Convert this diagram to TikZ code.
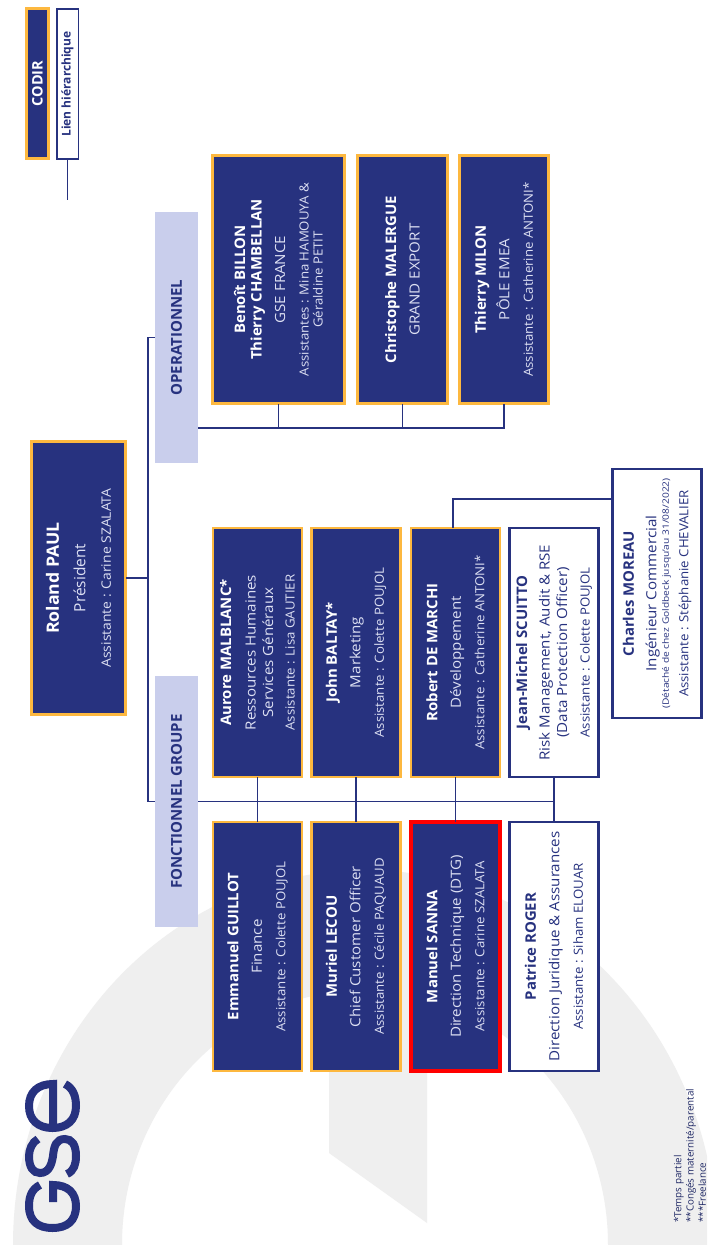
\documentclass[tikz,border=0pt]{standalone}
\usepackage{fontspec}
\setmainfont{Open Sans}
\definecolor{navy}{HTML}{27327F}
\definecolor{gold}{HTML}{FDB83F}
\definecolor{bandc}{HTML}{C9CEEC}
\definecolor{softw}{HTML}{DDE0F3}
\definecolor{bggray}{HTML}{EFEFEF}
\newcommand{\nmf}[1]{{\fontsize{14.5}{24}\bfseries\selectfont\addfontfeature{FakeStretch=1.03} #1}}
\newcommand{\rlf}[1]{{\fontsize{14}{24}\selectfont\addfontfeature{FakeStretch=1.08} #1}}
\newcommand{\asf}[1]{{\fontsize{12.6}{24}\selectfont\addfontfeature{FakeStretch=1.05} #1}}
\tikzset{
  x=1pt,y=-1pt,
  basebox/.style={rotate=90,inner sep=0pt,outer sep=0pt,align=center,line width=2.6pt,font=\fontsize{13}{23.5}\selectfont},
  std/.style={minimum width=249pt,minimum height=89pt},
  codirbox/.style={basebox,draw=gold,fill=navy,text=softw},
  redbox/.style={basebox,draw=red,fill=navy,text=softw,line width=3.4pt},
  whitebox/.style={basebox,draw=navy,fill=white,text=navy},
  bandbox/.style={rotate=90,fill=bandc,text=navy,inner sep=0pt,outer sep=0pt,minimum width=251pt,minimum height=43pt,font=\fontsize{15}{16}\bfseries\selectfont},
  link/.style={draw=navy,line width=1.8pt},
  logo/.style={draw=navy,line width=8pt,line cap=butt}
}
\begin{document}
\begin{tikzpicture}
\useasboundingbox (0,0) rectangle (707,1245);
\begin{scope}
\clip (0,0) rectangle (707,1245);
\fill[white] (0,0) rectangle (707,1245);
\fill[bggray,even odd rule] (365,1245) ellipse [x radius=352,y radius=375] (365,1245) ellipse [x radius=243,y radius=255];
\fill[bggray] (329,900) -- (427,900) -- (427,1223) -- (329,1153) -- cycle;
\end{scope}
% logo
\begin{scope}[shift={(80,1232)},x={(0pt,1pt)},y={(-1pt,0pt)}]
\draw[logo] (47,40) .. controls (43,48) and (36,51) .. (26,51) .. controls (11,51) and (4,42) .. (4,27.5) .. controls (4,13) and (11,4) .. (26,4) .. controls (39,4) and (47,12) .. (47,27) -- (30,27);
\draw[logo] (93,42) .. controls (90,48) and (82,51) .. (76,51) .. controls (65,51) and (59,47) .. (59,40) .. controls (59,30) and (70,28) .. (76,27) .. controls (86,26) and (93,24) .. (93,15) .. controls (93,8) and (87,4) .. (76,4) .. controls (68,4) and (61,6) .. (58,13);
\draw[logo] (104,27) -- (148,27) .. controls (148,42) and (140,51) .. (126,51) .. controls (112,51) and (104,42) .. (104,27.5) .. controls (104,13) and (112,4) .. (126,4) .. controls (136,4) and (144,7) .. (148,15);
\end{scope}
% legend
\node[codirbox,minimum width=150.5pt,minimum height=22.5pt,text=white,font=\fontsize{14.5}{14}\bfseries\selectfont] (legc) at (37.5,83.5) {CODIR};
\node[whitebox,minimum width=150pt,minimum height=21.5pt,line width=1.5pt,font=\fontsize{12}{14}\bfseries\selectfont] (legl) at (67.5,84) {Lien hiérarchique};
\coordinate (legend) at (67.5,200);
\draw[link] (legl.west) -- (legend);
% bands
\node[bandbox] (oper) at (176.5,337.5) {OPERATIONNEL};
\node[bandbox] (fonct) at (176.5,801.5) {FONCTIONNEL GROUPE};
% president
\node[codirbox,minimum width=273.5pt,minimum height=94.5pt] (roland) at (78.5,578) {{\fontsize{17}{24}\bfseries\selectfont\addfontfeature{FakeStretch=1.04}\color{white}Roland PAUL}\\[3pt]{\fontsize{15.5}{24}\selectfont Président}\\[2pt]{\fontsize{13}{24}\selectfont\addfontfeature{FakeStretch=1.07}Assistante : Carine SZALATA}};
% operationnel
\node[codirbox,minimum width=248.5pt,minimum height=132.5pt] (benoit) at (278.5,279.5) {\nmf{\color{white}Benoît BILLON}\\[-7pt]\nmf{\color{white}Thierry CHAMBELLAN}\\[0pt]\rlf{GSE FRANCE}\\[0pt]\asf{Assistantes : Mina HAMOUYA \&}\\[-9.5pt]\asf{Géraldine PETIT}};
\node[codirbox,minimum width=248.5pt,minimum height=90.5pt] (chris) at (402.5,279.5) {\nmf{\color{white}Christophe MALERGUE}\\[0pt]\rlf{GRAND EXPORT}};
\node[codirbox,minimum width=248.5pt,minimum height=89pt] (milon) at (504,279.5) {\nmf{\color{white}Thierry MILON}\\[0pt]\rlf{PÔLE EMEA}\\[0pt]\asf{Assistante : Catherine ANTONI*}};
% upper row
\node[codirbox,std] (aurore) at (257.5,652.5) {\nmf{\color{white}Aurore MALBLANC*}\\[1pt]\rlf{Ressources Humaines}\\[-6pt]\rlf{Services Généraux}\\[-2pt]\asf{Assistante : Lisa GAUTIER}};
\node[codirbox,std] (john) at (356,652.5) {\nmf{\color{white}John BALTAY*}\\[0pt]\rlf{Marketing}\\[0pt]\asf{Assistante : Colette POUJOL}};
\node[codirbox,std] (robert) at (455.5,652.5) {\nmf{\color{white}Robert DE MARCHI}\\[0pt]\rlf{Développement}\\[0pt]\asf{Assistante : Catherine ANTONI*}};
\node[whitebox,std] (jean) at (554,652.5) {\nmf{Jean-Michel SCUITTO}\\[-1pt]\rlf{Risk Management, Audit \& RSE}\\[-6pt]\rlf{(Data Protection Officer)}\\[-1pt]\asf{Assistante : Colette POUJOL}};
% lower row
\node[codirbox,std] (emm) at (257.5,946.5) {\nmf{\color{white}Emmanuel GUILLOT}\\[0pt]\rlf{Finance}\\[0pt]\asf{Assistante : Colette POUJOL}};
\node[codirbox,std] (muriel) at (356,946.5) {\nmf{\color{white}Muriel LECOU}\\[0pt]\rlf{Chief Customer Officer}\\[0pt]\asf{Assistante : Cécile PAQUAUD}};
\node[redbox,std] (manuel) at (455.5,946.5) {\nmf{\color{white}Manuel SANNA}\\[0pt]\rlf{Direction Technique (DTG)}\\[0pt]\asf{Assistante : Carine SZALATA}};
\node[whitebox,std] (patrice) at (554,946.5) {\nmf{Patrice ROGER}\\[0pt]\rlf{Direction Juridique \& Assurances}\\[0pt]\asf{Assistante : Siham ELOUAR}};
% charles
\node[whitebox,minimum width=249pt,minimum height=89pt] (charles) at (657,593.5) {\nmf{Charles MOREAU}\\[-1pt]\rlf{Ingénieur Commercial}\\[-11pt]{\fontsize{8.8}{10}\selectfont\addfontfeature{FakeStretch=1.16}(Détaché de chez Goldbeck jusqu'au 31/08/2022)}\\[-4pt]\asf{Assistante : Stéphanie CHEVALIER}};
% connectors
\coordinate (spine) at (148,578);
\draw[link] (roland.south) -- (spine);
\draw[link] (oper.north) -- (oper.north -| spine) -- (fonct.north -| spine) -- (fonct.north);
\draw[link] (fonct.south) -- (fonct.south -| patrice.east);
\draw[link] (aurore.west) -- (emm.east);
\draw[link] (john.west) -- (muriel.east);
\draw[link] (robert.west) -- (manuel.east);
\draw[link] (jean.west) -- (patrice.east);
\coordinate (opbus) at (198,428);
\draw[link] (opbus) -- (opbus -| milon.west) -- (milon.west);
\draw[link] (benoit.west) -- (opbus -| benoit.west);
\draw[link] (chris.west) -- (opbus -| chris.west);
\draw[link] ([xshift=-2.5pt]robert.east) |- ([yshift=94.5pt]charles.north);
% footnote
\node[rotate=90,anchor=west,align=left,inner sep=0pt,text=navy!80!black,font=\fontsize{9.8}{12.3}\selectfont] (foot) at (690,1223) {*Temps partiel\\**Congés maternité/parental\\***Freelance};
\end{tikzpicture}
\end{document}
